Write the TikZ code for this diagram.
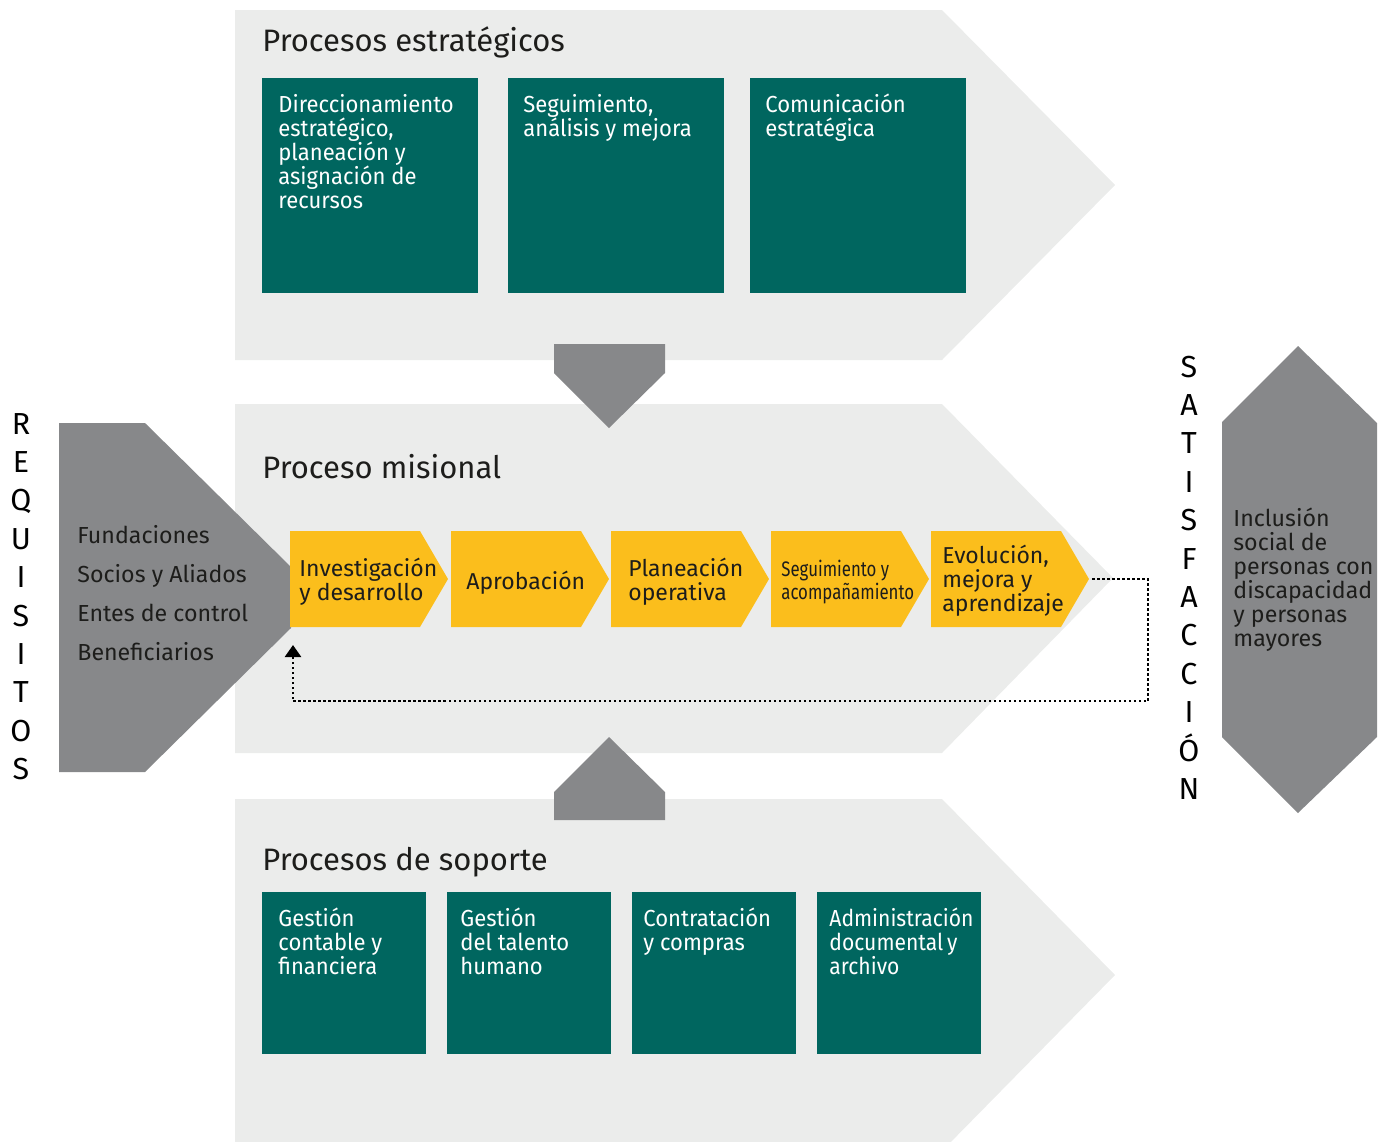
\documentclass[tikz,border=0pt]{standalone}
\usepackage{fontspec}
\setmainfont{Fira Sans}
\newfontfamily\narrowfont[FakeStretch=0.95]{Fira Sans}
\newfontfamily\narrowerfont[FakeStretch=0.91]{Fira Sans}
\newfontfamily\tightfont[FakeStretch=0.8]{Fira Sans}
\usetikzlibrary{arrows.meta}

\definecolor{band}{HTML}{EBECEB}
\definecolor{procgreen}{HTML}{00665F}
\definecolor{stepyellow}{HTML}{FBBE1C}
\definecolor{slate}{HTML}{87888A}
\definecolor{ink}{HTML}{1D1D1B}

% first line of a text block gets a fixed height, so the node top sits 24 units above its first baseline
\newcommand\firstline{\rule{0pt}{12pt}}

\tikzset{
  heading/.style={anchor=base west, inner sep=0, text=ink, font=\fontsize{15.5}{18}\selectfont},
  boxtext/.style={anchor=north west, inner sep=0, align=left, text=white,
                  font=\narrowfont\fontsize{11.6}{12}\selectfont},
  steptext/.style={anchor=north west, inner sep=0, align=left, text=ink,
                   font=\fontsize{11.5}{12}\selectfont},
  sidetext/.style={anchor=north west, inner sep=0, align=left, text=ink,
                   font=\fontsize{11.6}{12}\selectfont},
  vletter/.style={anchor=base, inner sep=0, text=black, font=\fontsize{15.2}{16}\selectfont},
  feedback/.style={line width=1.25pt, dash pattern=on 1.25pt off 1.25pt, draw=black,
                   -{Triangle[length=6pt,width=8pt]}},
}

\begin{document}
\begin{tikzpicture}[x=0.5pt,y=-0.5pt]
\useasboundingbox (0,0) rectangle (1389,1142);
\clip (0,0) rectangle (1389,1142);

% three process bands
\fill[band] (235,10) -- (942,10) -- (1115,185) -- (942,360) -- (235,360) -- cycle;
\fill[band] (235,404) -- (942,404) -- (1113,578) -- (942,753) -- (235,753) -- cycle;
\fill[band] (235,799) -- (942,799) -- (1115,975) -- (942,1151) -- (235,1151) -- cycle;

% arrows between bands
\fill[slate] (554,344) -- (665,344) -- (665,373) -- (609,428) -- (554,373) -- cycle;
\fill[slate] (609,737) -- (665,792) -- (665,820) -- (554,820) -- (554,792) -- cycle;

% requirements block and satisfaction block
\fill[slate] (59,423) -- (145,423) -- (291,567) -- (291,628) -- (145,772) -- (59,772) -- cycle;
\fill[slate] (1298,346) -- (1377,423) -- (1377,737) -- (1298,813) -- (1222,737) -- (1222,422) -- cycle;

% headings
\node[heading] (hstrat) at (262,51) {Procesos estratégicos};
\node[heading] (hmis) at (262,478) {Proceso misional};
\node[heading] (hsop) at (262,870) {Procesos de soporte};

% strategic processes
\fill[procgreen] (262,78) rectangle (478,293);
\fill[procgreen] (508,78) rectangle (724,293);
\fill[procgreen] (750,78) rectangle (966,293);
\node[boxtext] (dir) at (278,88) {\firstline Direccionamiento\\estratégico,\\planeación y\\asignación de\\recursos};
\node[boxtext] (seguim) at (523,88) {\firstline Seguimiento,\\análisis y mejora};
\node[boxtext] (com) at (765,88) {\firstline Comunicación\\estratégica};

% support processes
\fill[procgreen] (262,892) rectangle (426,1054);
\fill[procgreen] (447,892) rectangle (611,1054);
\fill[procgreen] (632,892) rectangle (796,1054);
\fill[procgreen] (817,892) rectangle (981,1054);
\node[boxtext] (gcf) at (278,902) {\firstline Gestión\\contable y\\financiera};
\node[boxtext] (gth) at (460,902) {\firstline Gestión\\del talento\\humano};
\node[boxtext] (cyc) at (643,902) {\firstline Contratación\\y compras};
\node[boxtext, font=\narrowerfont\fontsize{11.6}{12}\selectfont] (adm) at (829,902)
  {\firstline Administración\\documental\kern-1pt{} y\\archivo};

% mission process steps
\foreach \s in {290,451,611,771,931}
  \fill[stepyellow] (\s,531) -- (\s+130,531) -- (\s+158,579) -- (\s+130,627) -- (\s,627) -- cycle;
\node[steptext] (inv) at (299,552) {\firstline Investigación\\y desarrollo};
\node[steptext] (apr) at (466,565) {\firstline Aprobación};
\node[steptext] (pla) at (628,552) {\firstline Planeación\\operativa};
\node[steptext, font=\tightfont\fontsize{10.5}{11.5}\selectfont] (seg) at (781,552) {\firstline Seguimiento y\\acompañamiento};
\node[steptext] (evo) at (942,539) {\firstline Evolución,\\mejora y\\aprendizaje};

% feedback loop from the last step back to the first
\coordinate (evotip) at (1092,579);
\coordinate (loopright) at (1148,579);
\coordinate (loopbottom) at (1148,701);
\coordinate (loopleft) at (293,701);
\coordinate (invreturn) at (293,645);
\draw[feedback] (evotip) -- (loopright) -- (loopbottom) -- (loopleft) -- (invreturn);

% block texts
\node[sidetext, font=\fontsize{11.6}{19.5}\selectfont] (req) at (77,519)
  {\firstline Fundaciones\\Socios y Aliados\\Entes de control\\Beneficiarios};
\node[sidetext] (sat) at (1233,502)
  {\firstline Inclusión\\social de\\personas con\\discapacidad\\y personas\\mayores};

% vertical words
\foreach \ch [count=\i from 0] in {R,E,Q,U,I,S,I,T,O,S}
  \node[vletter] (reqletter\i) at (21,434+38.4*\i) {\ch};
\foreach \ch [count=\i from 0] in {S,A,T,I,S,F,A,C,C,I,Ó,N}
  \node[vletter] (satletter\i) at (1189,377+38.4*\i) {\ch};
\end{tikzpicture}
\end{document}
